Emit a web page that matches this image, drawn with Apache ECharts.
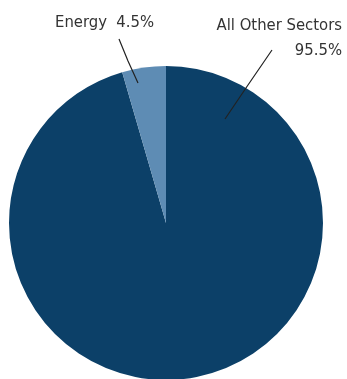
<!DOCTYPE html>
<html><head><meta charset="utf-8">
<script src="https://cdn.jsdelivr.net/npm/echarts@6/dist/echarts.min.js"></script>
<style>html,body{margin:0;padding:0;background:#fff}#c{width:347px;height:379px}</style>
</head><body><div id="c"></div>
<script>
const categories = ["All Other Sectors", "Energy"];
const values = [95.5, 4.5];
const labelTexts = ["All Other Sectors\n95.5%", "Energy  4.5%"];
const colors = ["#0c4068", "#5e8cb4"];

const chart = echarts.init(document.getElementById('c'), null, {renderer: 'canvas'});
const font = '"DejaVu Sans Condensed", "Liberation Sans Narrow", sans-serif';
const base = {
  type: 'pie',
  center: [166, 223],
  radius: [0, 157],
  startAngle: 90,
  clockwise: true,
  silent: true
};
chart.setOption({
  animation: false,
  series: [
    Object.assign({}, base, {
      z: 2,
      data: categories.map((c, i) => ({name: c, value: values[i], itemStyle: {color: colors[i]}})),
      label: {show: false},
      labelLine: {show: false}
    }),
    Object.assign({}, base, {
      z: 5,
      data: categories.map((c, i) => ({
        name: c, value: values[i],
        itemStyle: {color: 'rgba(0,0,0,0)'},
        label: {formatter: labelTexts[i]}
      })),
      label: {
        show: true,
        color: '#333',
        fontFamily: font,
        fontSize: 16.5,
        lineHeight: 25,
        overflow: 'none'
      },
      labelLine: {show: true, lineStyle: {color: '#222', width: 1.2}},
      labelLayout: function (p) {
        if (p.dataIndex === 0) {
          return {x: 342, y: 13, align: 'right', verticalAlign: 'top',
            labelLinePoints: [[225, 119], [248, 85], [272, 50]]};
        }
        return {x: 55, y: 23, align: 'left', verticalAlign: 'middle',
          labelLinePoints: [[138, 83], [128, 61], [119, 39]]};
      }
    })
  ]
});
</script></body></html>
